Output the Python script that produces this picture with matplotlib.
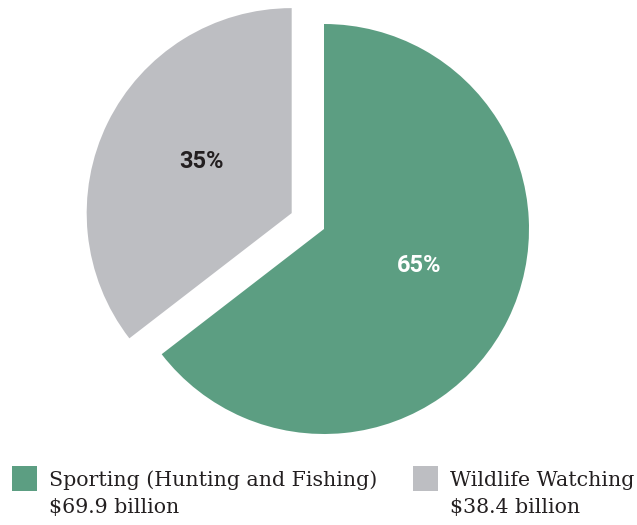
import matplotlib.pyplot as plt
from matplotlib.patches import Rectangle

# spending by activity, billions of dollars
labels = ['Sporting (Hunting and Fishing)', 'Wildlife Watching']
amounts = [69.9, 38.4]
amount_labels = ['$69.9 billion', '$38.4 billion']
colors = ['#5c9e82', '#bdbec2']
pct_colors = ['white', '#231f20']

fig = plt.figure(figsize=(6.37, 5.25), dpi=100)
ax = fig.add_axes([0, 0, 1, 1])

# explode is in data units here since the radius is given in pixels
wedges, texts, autotexts = ax.pie(
    amounts, colors=colors, startangle=90, counterclock=False,
    radius=205, center=(324, 296), explode=[0, 36],
    autopct='%.0f%%', pctdistance=0.5, frame=True,
    wedgeprops=dict(linewidth=0))
ax.set_xlim(0, 637)
ax.set_ylim(0, 525)
ax.set_aspect('equal')
ax.axis('off')

# small nudges so the percentages sit where they read best
nudges = [(3, 9), (2, 6)]
for t, c, (dx, dy) in zip(autotexts, pct_colors, nudges):
    x, y = t.get_position()
    t.set_position((x + dx, y + dy))
    t.set_color(c)
    t.set_fontsize(17)
    t.set_fontweight('bold')
    t.set_family(['Liberation Sans Narrow', 'Roboto', 'DejaVu Sans'])

# legend drawn by hand: swatch, name, amount
legend_x = [12, 413]
for x, lab, amt, c in zip(legend_x, labels, amount_labels, colors):
    ax.add_patch(Rectangle((x, 34), 25, 25, color=c, lw=0))
    ax.text(x + 37, 45, lab, fontsize=14.8, family='DejaVu Serif',
            color='#231f20', va='center')
    ax.text(x + 37, 17, amt, fontsize=14.8, family='DejaVu Serif',
            color='#231f20', va='center')

fig.savefig('out.png', dpi=100)
